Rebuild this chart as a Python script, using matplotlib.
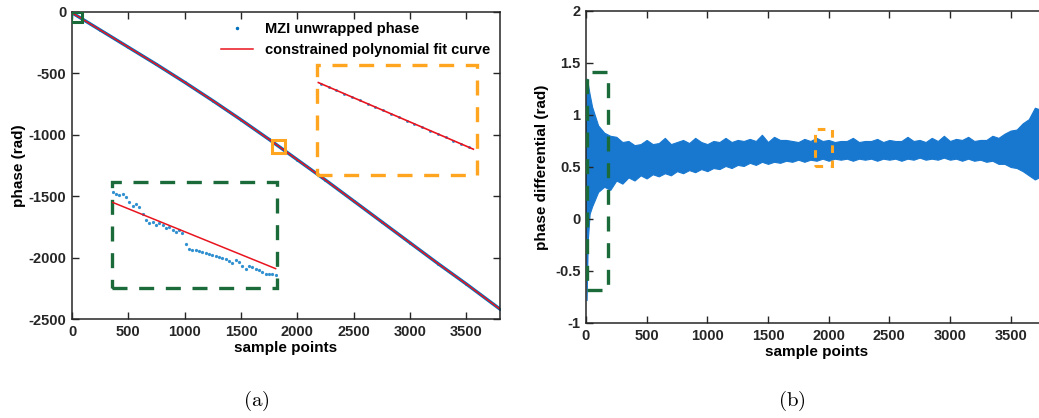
import matplotlib
matplotlib.use('Agg')
import matplotlib.pyplot as plt
from matplotlib.patches import Rectangle

plt.rcParams['font.family'] = ['Liberation Sans', 'DejaVu Sans']
plt.rcParams['font.weight'] = 'bold'
plt.rcParams['axes.unicode_minus'] = False
plt.rcParams['mathtext.fontset'] = 'cm'

# (a) unwrapped phase, read every few hundred samples
phase_x = [0, 250, 500, 750, 1000, 1250, 1500, 1750, 2000, 2250, 2500, 2750, 3000, 3250, 3500, 3800]
phase_y = [-10, -150, -290, -430, -575, -725, -880, -1040, -1205, -1370, -1540, -1710, -1880, -2050, -2215, -2420]

# green zoom window: first 50 samples
green_x = list(range(50))
green_dots = [-6.7, -7.2, -7.4, -7.3, -8.0, -9.5, -10.7, -10.3, -11.2, -13.2,
              -15.0, -16.0, -15.5, -16.5, -16.0, -16.6, -17.5, -17.0, -18.0, -18.5,
              -18.1, -19.0, -22.2, -23.6, -24.0, -24.0, -24.2, -24.7, -24.8, -25.2,
              -25.5, -25.7, -26.0, -26.5, -26.8, -27.2, -27.8, -27.0, -27.6, -28.8,
              -29.6, -28.8, -29.2, -29.6, -30.0, -30.7, -31.1, -31.2, -31.2, -31.6]
green_fit_x = [0, 49]
green_fit_y = [-9.7, -29.6]

# orange zoom window around sample 1830
orange_x = [1829, 1831, 1833, 1835, 1837, 1839, 1841, 1843, 1845, 1847,
            1849, 1851, 1853, 1855, 1857, 1859, 1861, 1863, 1865, 1867]
orange_dots = [-1098.4, -1099.8, -1101.1, -1102.4, -1103.8, -1105.1, -1106.5, -1107.8, -1109.1, -1110.5,
               -1111.8, -1113.2, -1114.5, -1115.8, -1117.2, -1118.5, -1119.9, -1121.2, -1122.5, -1123.9]
orange_fit_x = [1828.4, 1868.1]
orange_fit_y = [-1098.0, -1124.6]

# (b) phase differential, envelope of the noisy trace
diff_x = [0, 5, 15, 30] + list(range(50, 3801, 50))
diff_hi = [0.85, 1.35, 1.30, 1.20,
           1.08, 0.90, 0.83, 0.80, 0.79, 0.74, 0.75, 0.71, 0.72, 0.76,
           0.72, 0.73, 0.78, 0.72, 0.74, 0.76, 0.73, 0.78, 0.74, 0.72,
           0.75, 0.74, 0.78, 0.74, 0.76, 0.75, 0.77, 0.75, 0.81, 0.74,
           0.79, 0.76, 0.76, 0.75, 0.74, 0.77, 0.75, 0.78, 0.75, 0.76,
           0.74, 0.75, 0.75, 0.78, 0.74, 0.75, 0.75, 0.77, 0.74, 0.76,
           0.75, 0.75, 0.79, 0.75, 0.76, 0.74, 0.78, 0.75, 0.80, 0.75,
           0.77, 0.76, 0.79, 0.75, 0.76, 0.76, 0.80, 0.78, 0.82, 0.85,
           0.86, 0.92, 0.96, 1.07, 1.05, 1.00]
diff_lo = [0.20, -0.78, -0.20, 0.05,
           0.12, 0.26, 0.31, 0.28, 0.37, 0.34, 0.40, 0.37, 0.42, 0.39,
           0.43, 0.41, 0.44, 0.42, 0.46, 0.44, 0.47, 0.45, 0.48, 0.46,
           0.49, 0.48, 0.51, 0.49, 0.52, 0.51, 0.54, 0.52, 0.55, 0.53,
           0.55, 0.54, 0.56, 0.55, 0.57, 0.55, 0.57, 0.56, 0.58, 0.56,
           0.58, 0.57, 0.58, 0.56, 0.58, 0.57, 0.58, 0.56, 0.58, 0.57,
           0.58, 0.56, 0.58, 0.57, 0.59, 0.57, 0.58, 0.57, 0.59, 0.57,
           0.58, 0.56, 0.58, 0.56, 0.57, 0.55, 0.56, 0.53, 0.53, 0.50,
           0.49, 0.46, 0.42, 0.38, 0.41, 0.45]

blue = '#0072BD'
blue_b = '#1878D0'
red = '#E8141E'
green = '#1B6B3A'
orange = '#FFA51F'
spine_c = '#262626'


def style_axes(ax):
    ax.tick_params(direction='in', top=True, right=True, length=5, width=1,
                   labelsize=10.5, colors=spine_c, pad=4)
    for s in ax.spines.values():
        s.set_linewidth(1.1)
        s.set_color(spine_c)
    for lab in ax.get_xticklabels() + ax.get_yticklabels():
        lab.set_fontweight('bold')


fig = plt.figure(figsize=(10.39, 4.18), dpi=100)

# ---------- (a) ----------
ax1 = fig.add_axes([0.0693, 0.2368, 0.412, 0.7356])
ax1.plot(phase_x, phase_y, color=blue, lw=2.4)
ax1.plot(phase_x, phase_y, color=blue, ls='none', marker='.', markersize=2,
         label='MZI unwrapped phase')
ax1.plot(phase_x, phase_y, color=red, lw=1.1, label='constrained polynomial fit curve')
ax1.set_xlim(0, 3800)
ax1.set_ylim(-2500, 0)
ax1.set_xticks(range(0, 3501, 500))
ax1.set_yticks(range(-2500, 1, 500))
ax1.set_xlabel('sample points', fontsize=11, fontweight='bold', labelpad=2)
ax1.set_ylabel('phase (rad)', fontsize=11, fontweight='bold', labelpad=2)
style_axes(ax1)
ax1.legend(loc='upper right', frameon=False, handlelength=2.2,
           borderaxespad=0.3, labelspacing=0.5, markerscale=1.5,
           prop={'weight': 'bold', 'size': 10.5})

# markers of the zoomed regions on the curve
ax1.add_patch(Rectangle((-5, -85), 90, 80, fill=False, ec=green, lw=2.2, zorder=5))
ax1.add_patch(Rectangle((1776, -1150), 115, 105, fill=False, ec=orange, lw=2.2, zorder=5))

# green inset
gx0, gx1, gy0, gy1 = 352, 1819, -2250, -1384
ax1.add_patch(Rectangle((gx0, gy0), gx1 - gx0, gy1 - gy0, fill=False, ec=green,
                        lw=2.4, ls=(0, (4.5, 3.5)), zorder=4))
ins_g = ax1.inset_axes([gx0, gy0, gx1 - gx0, gy1 - gy0], transform=ax1.transData)
ins_g.plot(green_x, green_dots, ls='none', marker='.', markersize=2.6, color='#3090D0')
ins_g.plot(green_fit_x, green_fit_y, color=red, lw=1.1)
ins_g.set_xlim(-0.3, 49.4)
ins_g.set_ylim(-35.5, -3.5)
ins_g.axis('off')

# orange inset
ox0, ox1, oy0, oy1 = 2173, 3594, -1329, -435
ax1.add_patch(Rectangle((ox0, oy0), ox1 - ox0, oy1 - oy0, fill=False, ec=orange,
                        lw=2.4, ls=(0, (4.5, 3.5)), zorder=4))
ins_o = ax1.inset_axes([ox0, oy0, ox1 - ox0, oy1 - oy0], transform=ax1.transData)
ins_o.plot(orange_x, orange_dots, ls='none', marker='.', markersize=2.2, color='#3090D0')
ins_o.plot(orange_fit_x, orange_fit_y, color=red, lw=1.2)
ins_o.set_xlim(1828, 1869)
ins_o.set_ylim(-1134.9, -1091)
ins_o.axis('off')

# ---------- (b) ----------
ax2 = fig.add_axes([0.564, 0.2273, 0.4437, 0.7464])
ax2.fill_between(diff_x, diff_lo, diff_hi, color=blue_b, lw=0.8, ec=blue_b)
ax2.set_xlim(0, 3800)
ax2.set_ylim(-1, 2)
ax2.set_xticks(range(0, 3501, 500))
ax2.set_yticks([-1, -0.5, 0, 0.5, 1, 1.5, 2])
ax2.set_yticklabels(['-1', '-0.5', '0', '0.5', '1', '1.5', '2'])
ax2.set_xlabel('sample points', fontsize=11, fontweight='bold', labelpad=2)
ax2.set_ylabel('phase differential (rad)', fontsize=11, fontweight='bold', labelpad=4)
style_axes(ax2)
ax2.add_patch(Rectangle((8, -0.68), 172, 2.09, fill=False, ec=green, lw=2.4,
                        ls=(0, (4.5, 3.5)), zorder=5, clip_on=False))
ax2.add_patch(Rectangle((1886, 0.51), 140, 0.355, fill=False, ec=orange, lw=2.2,
                        ls=(0, (2.5, 2.5)), zorder=5))

fig.text(0.247, 0.04, r'$\mathrm{(a)}$', ha='center', va='center', fontsize=15)
fig.text(0.762, 0.04, r'$\mathrm{(b)}$', ha='center', va='center', fontsize=15)

fig.savefig('out.png', dpi=100)
